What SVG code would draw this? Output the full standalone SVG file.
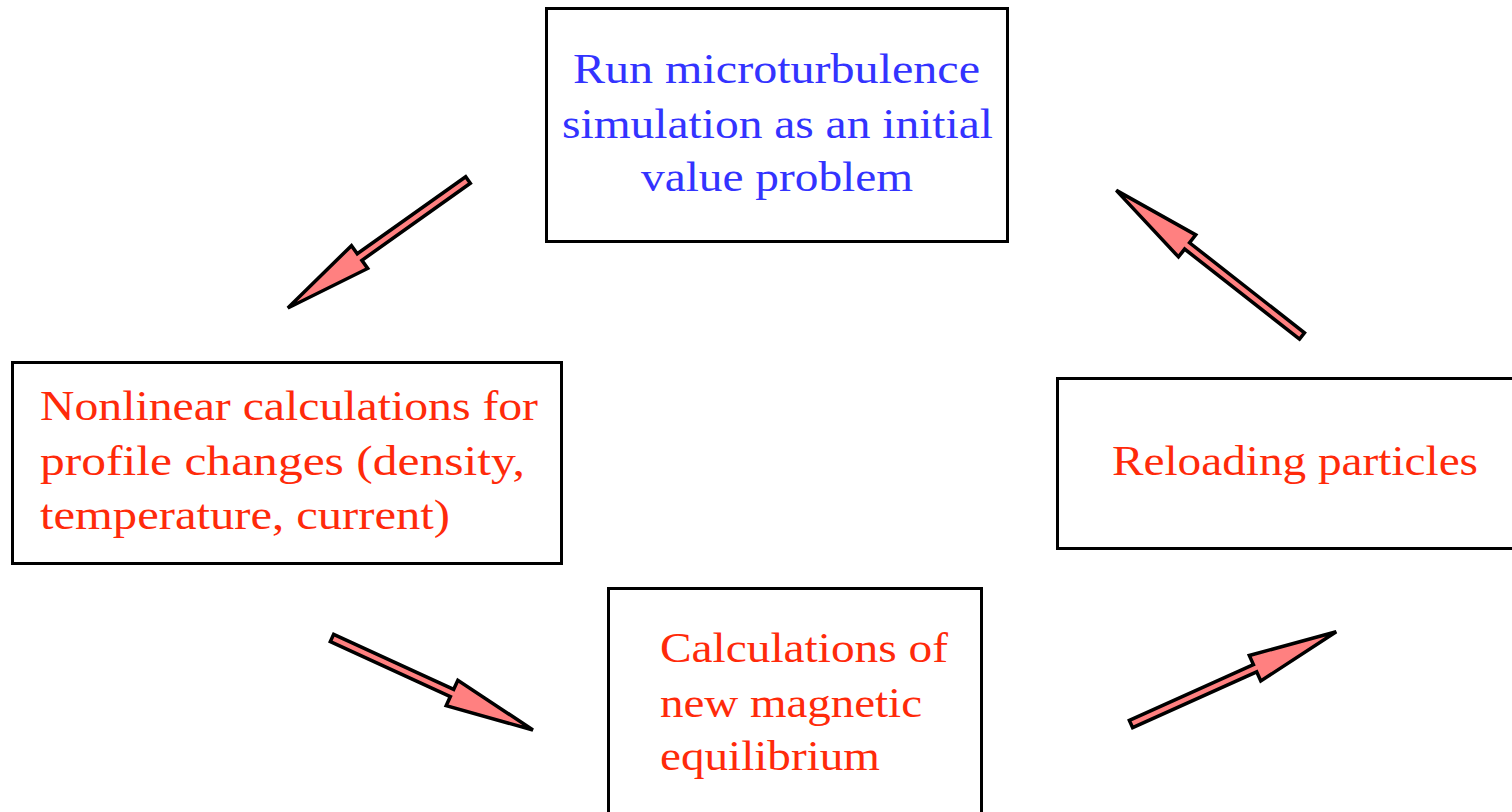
<svg xmlns="http://www.w3.org/2000/svg" width="1512" height="812" viewBox="0 0 1512 812">
<defs>
<style>
.box{fill:#fff;stroke:#000;stroke-width:3}
.t{font-family:"Liberation Serif","Times New Roman",serif;font-size:42px}
.blue{fill:#3333ff}
.red{fill:#ff2a0a}
.arrow{fill:#ff8080;stroke:#000;stroke-width:3.5;stroke-linejoin:miter}
</style>
</defs>
<rect width="1512" height="812" fill="#fff"/>
<g id="node-top">
<rect class="box" x="546.5" y="8.5" width="461" height="233"/>
<text class="t blue" x="573" y="83" textLength="407" lengthAdjust="spacingAndGlyphs">Run microturbulence</text>
<text class="t blue" x="562" y="138" textLength="431" lengthAdjust="spacingAndGlyphs">simulation as an initial</text>
<text class="t blue" x="641" y="191" textLength="272" lengthAdjust="spacingAndGlyphs">value problem</text>
</g>
<g id="node-left">
<rect class="box" x="12.5" y="362.5" width="549" height="201"/>
<text class="t red" x="40" y="420" textLength="498" lengthAdjust="spacingAndGlyphs">Nonlinear calculations for</text>
<text class="t red" x="40" y="475" textLength="485" lengthAdjust="spacingAndGlyphs">profile changes (density,</text>
<text class="t red" x="40" y="529" textLength="410" lengthAdjust="spacingAndGlyphs">temperature, current)</text>
</g>
<g id="node-right">
<rect class="box" x="1057.5" y="378.5" width="460" height="170"/>
<text class="t red" x="1112" y="475" textLength="366" lengthAdjust="spacingAndGlyphs">Reloading particles</text>
</g>
<g id="node-bottom">
<rect class="box" x="608.5" y="588.5" width="373" height="230"/>
<text class="t red" x="660" y="662" textLength="288" lengthAdjust="spacingAndGlyphs">Calculations of</text>
<text class="t red" x="660" y="717" textLength="262" lengthAdjust="spacingAndGlyphs">new magnetic</text>
<text class="t red" x="660" y="770" textLength="220" lengthAdjust="spacingAndGlyphs">equilibrium</text>
</g>
<g id="connectors">
<polygon class="arrow" transform="translate(468,180) rotate(144.6)" points="0,-4 133,-4 133,-14 221,0 133,14 133,4 0,4"/>
<polygon class="arrow" transform="translate(1302,336) rotate(-141.9)" points="0,-4 146,-4 146,-14 236,0 146,14 146,4 0,4"/>
<polygon class="arrow" transform="translate(332,638) rotate(24.6)" points="0,-4 132,-4 132,-14 221,0 132,14 132,4 0,4"/>
<polygon class="arrow" transform="translate(1131,724) rotate(-24.2)" points="0,-4 136,-4 136,-14 225,0 136,14 136,4 0,4"/>
</g>
</svg>
